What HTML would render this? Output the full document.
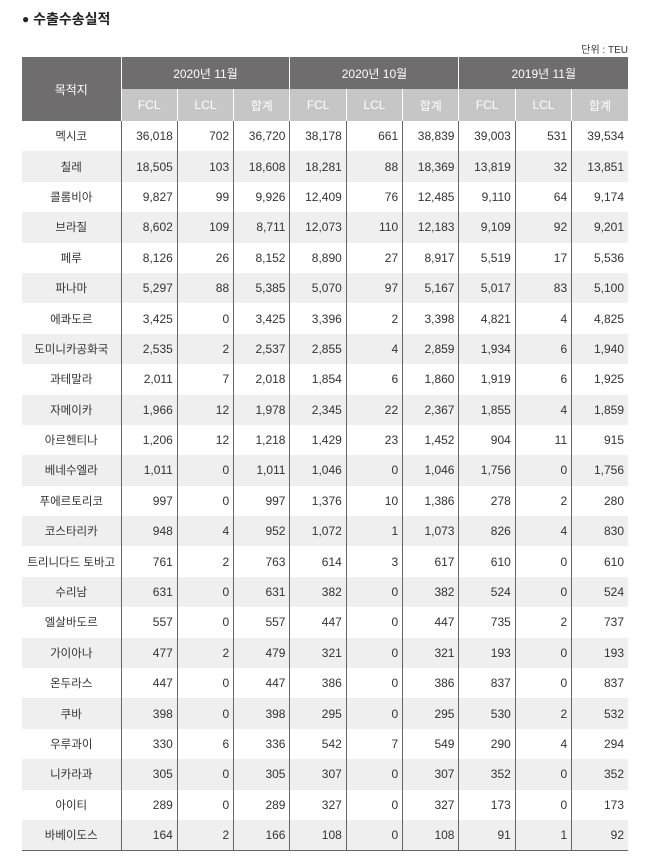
<!DOCTYPE html><html><head><meta charset="utf-8"><style>
body{margin:0;width:650px;height:862px;background:#fff;font-family:"Liberation Sans","Noto Sans CJK KR",sans-serif;color:#333;position:relative;overflow:hidden}
.t{position:absolute;left:22px;top:9px;font-size:14px;font-weight:bold;color:#222}
.t b{font-size:12px;position:relative;top:-1px}
.u{position:absolute;right:22px;top:41px;font-size:10px;color:#333}
table{position:absolute;left:22px;top:57px;width:606px;border-collapse:collapse;table-layout:fixed;font-size:12px}
th{font-weight:normal;color:#fff;padding:0;box-sizing:border-box}
.h1 th{background:#6f6d6d;height:32px;border-left:1px solid #fff;font-size:12px}
.h1 th:first-child{border-left:none}
.h2 th{background:#c6c6c6;height:31px;border-left:1px solid #fff;border-top:none}
td{height:30.4px;padding:0 4px 0 0;text-align:right;border-left:1px solid #666;box-sizing:border-box}
td:first-child{text-align:center;border-left:none;padding:0;font-size:11.5px}
tbody tr:nth-child(even) td{background:#efefef}
tbody tr:last-child td{border-bottom:1.5px solid #666}
</style></head><body>
<div class="t"><b>●</b> 수출수송실적</div>
<div class="u">단위 : TEU</div>
<table>
<colgroup><col style="width:99px"><col span="9" style="width:56.33px"></colgroup>
<thead>
<tr class="h1"><th rowspan="2">목적지</th><th colspan="3" style="height:31px">2020년 11월</th><th colspan="3">2020년 10월</th><th colspan="3">2019년 11월</th></tr>
<tr class="h2"><th style="height:32px">FCL</th><th>LCL</th><th>합계</th><th>FCL</th><th>LCL</th><th>합계</th><th>FCL</th><th>LCL</th><th>합계</th></tr>
</thead>
<tbody>
<tr><td>멕시코</td><td>36,018</td><td>702</td><td>36,720</td><td>38,178</td><td>661</td><td>38,839</td><td>39,003</td><td>531</td><td>39,534</td></tr>
<tr><td>칠레</td><td>18,505</td><td>103</td><td>18,608</td><td>18,281</td><td>88</td><td>18,369</td><td>13,819</td><td>32</td><td>13,851</td></tr>
<tr><td>콜롬비아</td><td>9,827</td><td>99</td><td>9,926</td><td>12,409</td><td>76</td><td>12,485</td><td>9,110</td><td>64</td><td>9,174</td></tr>
<tr><td>브라질</td><td>8,602</td><td>109</td><td>8,711</td><td>12,073</td><td>110</td><td>12,183</td><td>9,109</td><td>92</td><td>9,201</td></tr>
<tr><td>페루</td><td>8,126</td><td>26</td><td>8,152</td><td>8,890</td><td>27</td><td>8,917</td><td>5,519</td><td>17</td><td>5,536</td></tr>
<tr><td>파나마</td><td>5,297</td><td>88</td><td>5,385</td><td>5,070</td><td>97</td><td>5,167</td><td>5,017</td><td>83</td><td>5,100</td></tr>
<tr><td>에콰도르</td><td>3,425</td><td>0</td><td>3,425</td><td>3,396</td><td>2</td><td>3,398</td><td>4,821</td><td>4</td><td>4,825</td></tr>
<tr><td>도미니카공화국</td><td>2,535</td><td>2</td><td>2,537</td><td>2,855</td><td>4</td><td>2,859</td><td>1,934</td><td>6</td><td>1,940</td></tr>
<tr><td>과테말라</td><td>2,011</td><td>7</td><td>2,018</td><td>1,854</td><td>6</td><td>1,860</td><td>1,919</td><td>6</td><td>1,925</td></tr>
<tr><td>자메이카</td><td>1,966</td><td>12</td><td>1,978</td><td>2,345</td><td>22</td><td>2,367</td><td>1,855</td><td>4</td><td>1,859</td></tr>
<tr><td>아르헨티나</td><td>1,206</td><td>12</td><td>1,218</td><td>1,429</td><td>23</td><td>1,452</td><td>904</td><td>11</td><td>915</td></tr>
<tr><td>베네수엘라</td><td>1,011</td><td>0</td><td>1,011</td><td>1,046</td><td>0</td><td>1,046</td><td>1,756</td><td>0</td><td>1,756</td></tr>
<tr><td>푸에르토리코</td><td>997</td><td>0</td><td>997</td><td>1,376</td><td>10</td><td>1,386</td><td>278</td><td>2</td><td>280</td></tr>
<tr><td>코스타리카</td><td>948</td><td>4</td><td>952</td><td>1,072</td><td>1</td><td>1,073</td><td>826</td><td>4</td><td>830</td></tr>
<tr><td>트리니다드 토바고</td><td>761</td><td>2</td><td>763</td><td>614</td><td>3</td><td>617</td><td>610</td><td>0</td><td>610</td></tr>
<tr><td>수리남</td><td>631</td><td>0</td><td>631</td><td>382</td><td>0</td><td>382</td><td>524</td><td>0</td><td>524</td></tr>
<tr><td>엘살바도르</td><td>557</td><td>0</td><td>557</td><td>447</td><td>0</td><td>447</td><td>735</td><td>2</td><td>737</td></tr>
<tr><td>가이아나</td><td>477</td><td>2</td><td>479</td><td>321</td><td>0</td><td>321</td><td>193</td><td>0</td><td>193</td></tr>
<tr><td>온두라스</td><td>447</td><td>0</td><td>447</td><td>386</td><td>0</td><td>386</td><td>837</td><td>0</td><td>837</td></tr>
<tr><td>쿠바</td><td>398</td><td>0</td><td>398</td><td>295</td><td>0</td><td>295</td><td>530</td><td>2</td><td>532</td></tr>
<tr><td>우루과이</td><td>330</td><td>6</td><td>336</td><td>542</td><td>7</td><td>549</td><td>290</td><td>4</td><td>294</td></tr>
<tr><td>니카라과</td><td>305</td><td>0</td><td>305</td><td>307</td><td>0</td><td>307</td><td>352</td><td>0</td><td>352</td></tr>
<tr><td>아이티</td><td>289</td><td>0</td><td>289</td><td>327</td><td>0</td><td>327</td><td>173</td><td>0</td><td>173</td></tr>
<tr><td>바베이도스</td><td>164</td><td>2</td><td>166</td><td>108</td><td>0</td><td>108</td><td>91</td><td>1</td><td>92</td></tr>
</tbody></table>
</body></html>
